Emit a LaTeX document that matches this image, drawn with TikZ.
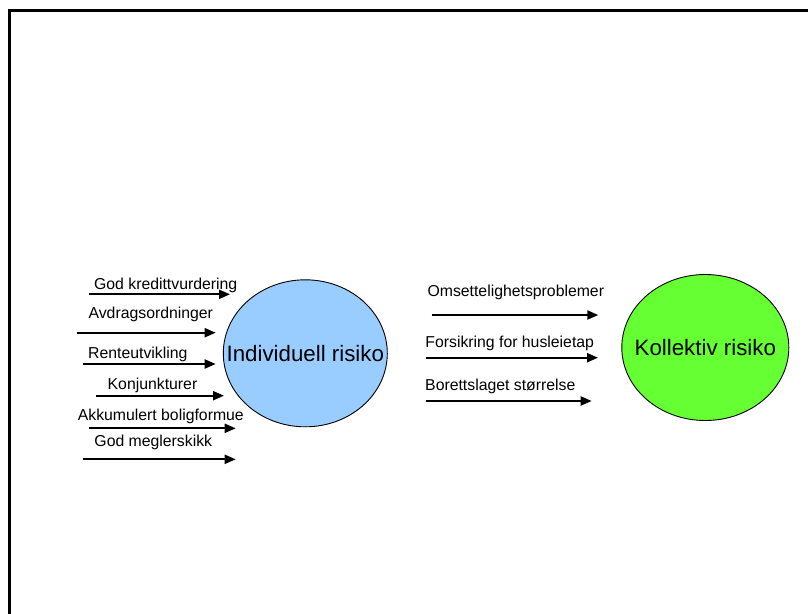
\documentclass[tikz,border=0pt]{standalone}
\usepackage{fontspec}
\setmainfont{Liberation Sans}
\usetikzlibrary{shapes.geometric,arrows.meta}

\definecolor{lyseblaa}{RGB}{153,204,255}
\definecolor{lysegroenn}{RGB}{102,255,51}

\tikzset{
    pil/.style={line width=2pt, -{Triangle[length=11pt,width=9pt]}},
    faktor/.style={anchor=base, inner sep=0pt, font=\fontsize{15.8}{18}\selectfont},
    risiko/.style={ellipse, draw, line width=0.9pt, inner sep=0pt},
    tittel/.style={inner sep=0pt, font=\fontsize{22.3}{26}\selectfont}
}

\begin{document}
\begin{tikzpicture}[x=1pt, y=-1pt]
    \useasboundingbox (0,0) rectangle (808,613);
    \clip (0,0) rectangle (808,613);
    % ramme
    \draw [line width=3.2pt] (9.5,640) |- (830,10.5);

    % sirklene
    \node [risiko, fill=lyseblaa, minimum width=164pt, minimum height=147pt] (indiv) at (305.3,353.3) {};
    \node [tittel] at (indiv.center) {Individuell risiko};
    \node [risiko, fill=lysegroenn, minimum width=167pt, minimum height=146pt] (kollek) at (705.3,347.5) {};
    \node [tittel] at (kollek.center) {Kollektiv risiko};

    % individuelle faktorer
    \foreach \navn/\tx/\ty/\ax/\bx/\ay [count=\i] in {
        God kredittvurdering/165.7/289/89/230/294.3,
        Avdragsordninger/150.8/318.3/76.7/215.7/332.7,
        Renteutvikling/137.8/358/83.3/215.7/364,
        Konjunkturer/152.5/389.3/96/224/395.7,
        Akkumulert boligformue/160.8/420/89/235.7/428.3,
        God meglerskikk/153.3/446.7/82.7/235.7/459.3}
    {
        \node [faktor] (ind\i) at (\tx,\ty) {\navn};
        \coordinate (ifra\i) at (\ax,\ay);
        \coordinate (itil\i) at (\bx,\ay);
        \draw [pil] (ifra\i) -- (itil\i);
    }

    % kollektive faktorer
    \foreach \navn/\tx/\ty/\ax/\bx/\ay [count=\i] in {
        Omsettelighetsproblemer/515.8/296/431.7/598.3/315,
        Forsikring for husleietap/509.7/347.7/426/598/357.7,
        Borettslaget størrelse/500.3/390.7/426/591.7/401}
    {
        \node [faktor] (kol\i) at (\tx,\ty) {\navn};
        \coordinate (kfra\i) at (\ax,\ay);
        \coordinate (ktil\i) at (\bx,\ay);
        \draw [pil] (kfra\i) -- (ktil\i);
    }
\end{tikzpicture}
\end{document}
